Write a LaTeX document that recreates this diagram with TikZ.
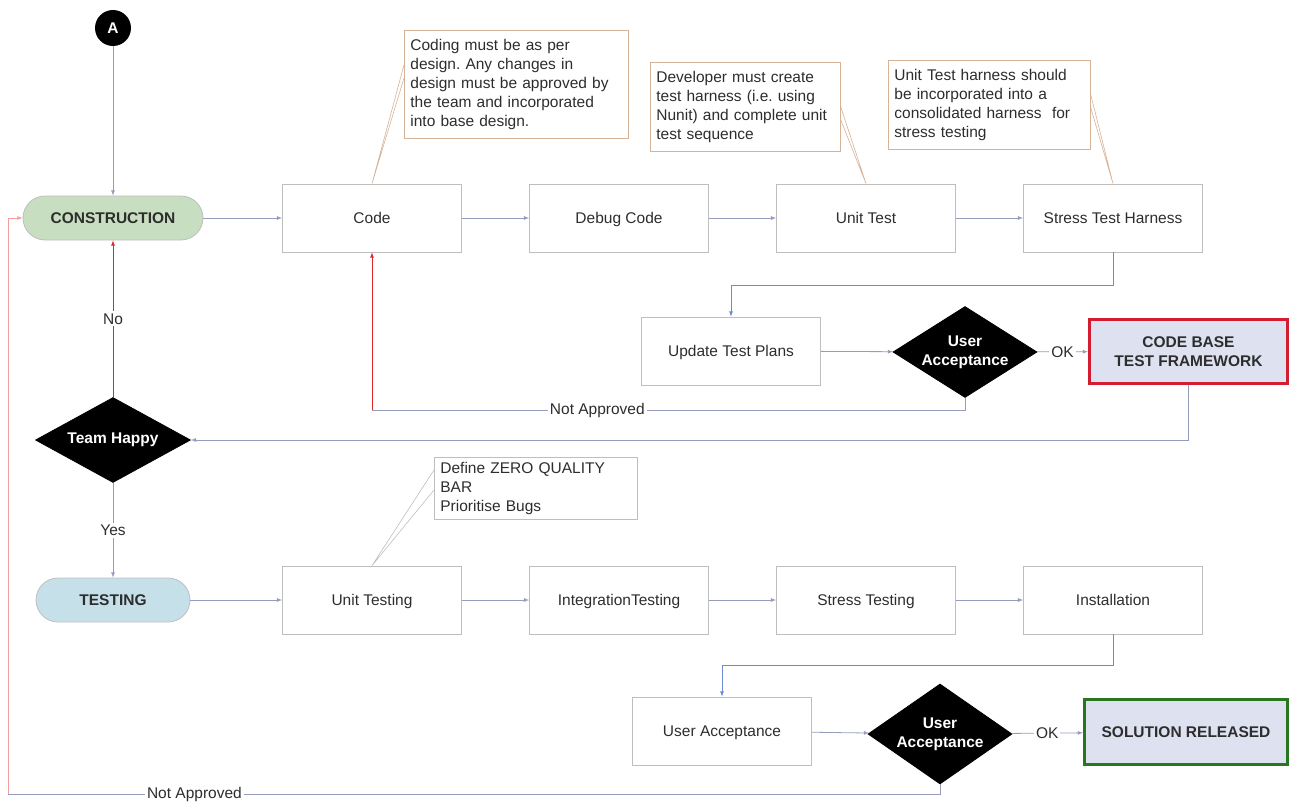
\documentclass[tikz,border=0pt]{standalone}
\usepackage{fontspec}
\setmainfont{Liberation Sans}
\usetikzlibrary{positioning,shapes.geometric}

\definecolor{boxline}{RGB}{190,190,190}
\definecolor{noteline}{RGB}{214,178,150}
\definecolor{flowline}{RGB}{150,156,188}
\definecolor{bluelink}{RGB}{105,140,210}
\definecolor{redlink}{RGB}{225,40,40}
\definecolor{greenfill}{RGB}{200,222,192}
\definecolor{bluefill}{RGB}{198,224,234}
\definecolor{endfill}{RGB}{222,226,240}
\definecolor{endred}{RGB}{212,28,48}
\definecolor{endgreen}{RGB}{40,118,30}
\definecolor{txt}{RGB}{45,45,45}
\frenchspacing

\begin{document}
\begin{tikzpicture}[x=1pt, y=-1pt, -latex, node distance=247pt and 247pt, on grid,
line width=0.8pt, font=\fontsize{15.5}{19}\selectfont,
phase/.style={rectangle, rounded corners=22pt, draw=boxline, minimum height=44pt,
  text=txt, font=\fontsize{15.5}{19}\selectfont\bfseries},
task/.style={rectangle, draw=boxline, minimum width=179pt, minimum height=68pt, text=txt,
  text height=12pt, text depth=2pt},
check/.style={diamond, draw=black, fill=black, aspect=1.6, inner sep=0pt, text=white,
  align=center, font=\fontsize{15.5}{19}\selectfont\bfseries},
note/.style={rectangle, draw=noteline, anchor=north west, align=left, text=txt,
  inner xsep=6pt, inner ysep=9pt},
goal/.style={rectangle, line width=3pt, fill=endfill, align=center, text=txt,
  font=\fontsize{15.5}{19}\selectfont\bfseries},
flow/.style={draw=flowline},
blueflow/.style={draw=bluelink},
redflow/.style={draw=redlink},
callout/.style={-, draw=noteline, line width=0.6pt},
lbl/.style={fill=white, inner sep=2pt, text=txt}
]
\path[use as bounding box, -] (0,0) rectangle (1291,803);

% construction phase
\node[circle, fill=black, minimum size=36pt, inner sep=0pt, text=white,
  font=\fontsize{15.5}{19}\selectfont\bfseries] (A) at (113,28) {A};
\node[phase, fill=greenfill, minimum width=180pt] (constr) at (113,218) {CONSTRUCTION};
\node[task] (code) at (372,218) {Code};
\node[task, right=of code] (debug) {Debug Code};
\node[task, right=of debug] (utest) {Unit Test};
\node[task, right=of utest] (harness) {Stress Test Harness};
\node[task] (update) at (731,351) {Update Test Plans};
\node[check, minimum width=144pt, minimum height=91pt] (accept1) at (965,352) {User\\Acceptance};
\node[goal, draw=endred, minimum width=198pt, minimum height=64pt] (codebase) at (1188.5,351.5)
  {CODE BASE\\TEST FRAMEWORK};
\node[check, minimum width=155pt, minimum height=85pt] (happy) at (113,440) {Team Happy};

% notes
\node[note, text width=212pt] (note1) at (404,30) {Coding must be as per\\design. Any changes in\\design must be approved by\\the team and incorporated\\into base design.};
\node[note, text width=178pt] (note2) at (650,62) {Developer must create\\test harness (i.e. using\\Nunit) and complete unit\\test sequence};
\node[note, text width=190pt] (note3) at (888,60) {Unit Test harness should\\be incorporated into a\\consolidated harness\ \ for\\stress testing};

% testing phase
\node[phase, fill=bluefill, minimum width=154pt] (testing) at (113,600) {TESTING};
\node[task] (utesting) at (372,600) {Unit Testing};
\node[task, right=of utesting] (itesting) {IntegrationTesting};
\node[task, right=of itesting] (stesting) {Stress Testing};
\node[task, right=of stesting] (install) {Installation};
\node[task] (uabox) at (722,731) {User Acceptance};
\node[check, minimum width=144pt, minimum height=100pt] (accept2) at (940,734) {User\\Acceptance};
\node[goal, draw=endgreen, minimum width=203pt, minimum height=65pt] (release) at (1186,732)
  {SOLUTION RELEASED};
\node[note, draw=boxline, inner ysep=5pt, text width=191pt] (note4) at (434,457) {Define ZERO QUALITY\\BAR\\Prioritise Bugs};

% callouts
\draw[callout] (code.north) -- ([yshift=-35pt]note1.north west)
  (code.north) -- ([yshift=-48pt]note1.north west);
\draw[callout] (utest.north) -- ([yshift=-45pt]note2.north east)
  (utest.north) -- ([yshift=-58pt]note2.north east);
\draw[callout] (harness.north) -- ([yshift=-35pt]note3.north east)
  (harness.north) -- ([yshift=-48pt]note3.north east);
\draw[callout, draw=boxline] (utesting.north) -- ([yshift=-13pt]note4.north west)
  (utesting.north) -- ([yshift=-33pt]note4.north west);

% construction flow
\draw[flow] (A) -- (constr);
\draw[flow] (constr) -- (code);
\draw[flow] (code) -- (debug);
\draw[flow] (debug) -- (utest);
\draw[flow] (utest) -- (harness);
\draw[blueflow] (harness.south) -- ++(0,33) -| (update.north);
\draw[flow] (update) -- (accept1);
\draw[flow] (accept1) -- node[lbl]{OK} (codebase);
\coordinate (back1) at (372,410);
\draw[flow, -] (accept1.south) |- node[lbl, pos=0.81]{Not Approved} (back1);
\draw[redflow] (back1) -- (code.south);
\draw[flow] (codebase.south) |- (happy.east);
\draw[redflow] (happy.north) -- node[lbl]{No} (constr.south);
\draw[flow] (happy.south) -- node[lbl]{Yes} (testing.north);

% testing flow
\draw[flow] (testing) -- (utesting);
\draw[flow] (utesting) -- (itesting);
\draw[flow] (itesting) -- (stesting);
\draw[flow] (stesting) -- (install);
\draw[blueflow] (install.south) -- ++(0,31) -| (uabox.north);
\draw[flow] (uabox) -- (accept2);
\draw[flow] (accept2) -- node[lbl]{OK} (release);
\coordinate (back2) at (8,794);
\draw[flow, -] (accept2.south) |- node[lbl, pos=0.90]{Not Approved} (back2);
\draw[redflow, draw=redlink!45] (back2) |- (constr.west);
\end{tikzpicture}
\end{document}
